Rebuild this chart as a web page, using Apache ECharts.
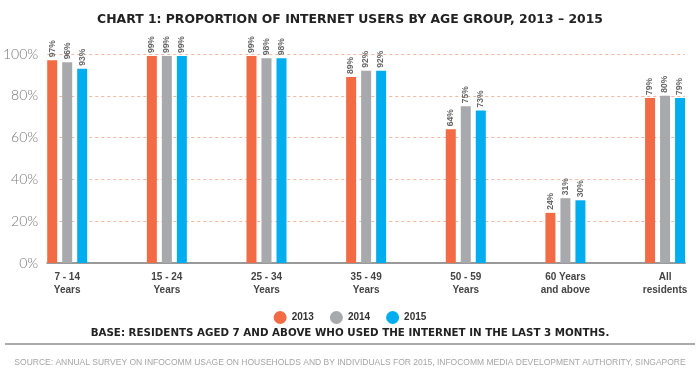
<!DOCTYPE html>
<html>
<head>
<meta charset="utf-8">
<script src="https://cdn.jsdelivr.net/npm/echarts@6/dist/echarts.min.js"></script>
<style>html,body{margin:0;padding:0;background:#fff}#c{width:700px;height:373px}</style>
</head>
<body>
<div id="c"></div>
<script>
const categories = ['7 - 14\nYears', '15 - 24\nYears', '25 - 34\nYears', '35 - 49\nYears', '50 - 59\nYears', '60 Years\nand above', 'All\nresidents'];
const seriesNames = ['2013', '2014', '2015'];
const values2013 = [97, 99, 99, 89, 64, 24, 79];
const values2014 = [96, 99, 98, 92, 75, 31, 80];
const values2015 = [93, 99, 98, 92, 73, 30, 79];
const yTicks = [0, 20, 40, 60, 80, 100];
const colors = ['#F26B45', '#A7A9AC', '#00AEEF'];

const chart = echarts.init(document.getElementById('c'), null, {renderer: 'canvas'});
const allValues = [values2013, values2014, values2015];
const narrow = '"Liberation Sans", sans-serif';

const series = allValues.map((vals, i) => ({
  name: seriesNames[i],
  type: 'bar',
  barWidth: 10,
  barGap: '50%',
  itemStyle: {color: colors[i]},
  data: vals.map((v, j) => [j, v]),
  label: {
    show: true,
    position: 'top',
    rotate: 90,
    align: 'left',
    verticalAlign: 'middle',
    distance: 3,
    formatter: p => p.value[1] + '%',
    fontFamily: narrow,
    fontWeight: 'bold',
    fontSize: 8.5,
    color: '#666'
  }
}));

chart.setOption({
  animation: false,
  title: [
    {
      text: 'CHART 1: PROPORTION OF INTERNET USERS BY AGE GROUP, 2013 – 2015',
      left: 'center', top: 9,
      textStyle: {fontFamily: '"DejaVu Sans"', fontWeight: 'bold', fontSize: 12.4, color: '#222'}
    },
    {
      text: 'BASE: RESIDENTS AGED 7 AND ABOVE WHO USED THE INTERNET IN THE LAST 3 MONTHS.',
      left: 'center', top: 323,
      textStyle: {fontFamily: '"DejaVu Sans"', fontWeight: 'bold', fontSize: 10.3, color: '#222'}
    },
    {
      text: 'SOURCE: ANNUAL SURVEY ON INFOCOMM USAGE ON HOUSEHOLDS AND BY INDIVIDUALS FOR 2015, INFOCOMM MEDIA DEVELOPMENT AUTHORITY, SINGAPORE',
      left: 'center', top: 353,
      textStyle: {fontFamily: narrow, fontWeight: 'normal', fontSize: 8.5, color: '#a5a5a5'}
    }
  ],
  graphic: [
    {type: 'line', shape: {x1: 5, y1: 344, x2: 695, y2: 344}, style: {stroke: '#aaaaaa', lineWidth: 2}}
  ],
  legend: {
    data: seriesNames,
    left: 'center', top: 306,
    icon: 'circle',
    itemWidth: 13, itemHeight: 13, itemGap: 16,
    textStyle: {fontFamily: narrow, fontWeight: 'bold', fontSize: 10, color: '#333'}
  },
  grid: {left: 44, right: 15, top: 54, bottom: 110, containLabel: false},
  xAxis: {
    type: 'value',
    min: -0.2,
    max: 6.2,
    splitNumber: 7,
    axisLine: {show: true, onZero: false, lineStyle: {color: '#9a9a9a', width: 2}},
    axisTick: {show: false},
    splitLine: {show: false},
    axisLabel: {
      showMinLabel: false, showMaxLabel: false,
      formatter: v => (Math.abs(v - Math.round(v)) < 1e-6 && categories[Math.round(v)]) ? categories[Math.round(v)] : '',
      fontFamily: narrow, fontWeight: 'bold', fontSize: 10, color: '#444', lineHeight: 13, margin: 8
    }
  },
  yAxis: {
    type: 'value',
    min: yTicks[0],
    max: yTicks[yTicks.length - 1],
    interval: 20,
    axisLine: {show: false},
    axisTick: {show: false},
    axisLabel: {formatter: '{value}%', fontFamily: 'Lato, sans-serif', fontWeight: 300, fontSize: 14, color: '#777', margin: 9},
    splitLine: {show: true, lineStyle: {color: '#f2b9a0', type: [3, 3], width: 1}}
  },
  series: series
});
</script>
</body>
</html>
